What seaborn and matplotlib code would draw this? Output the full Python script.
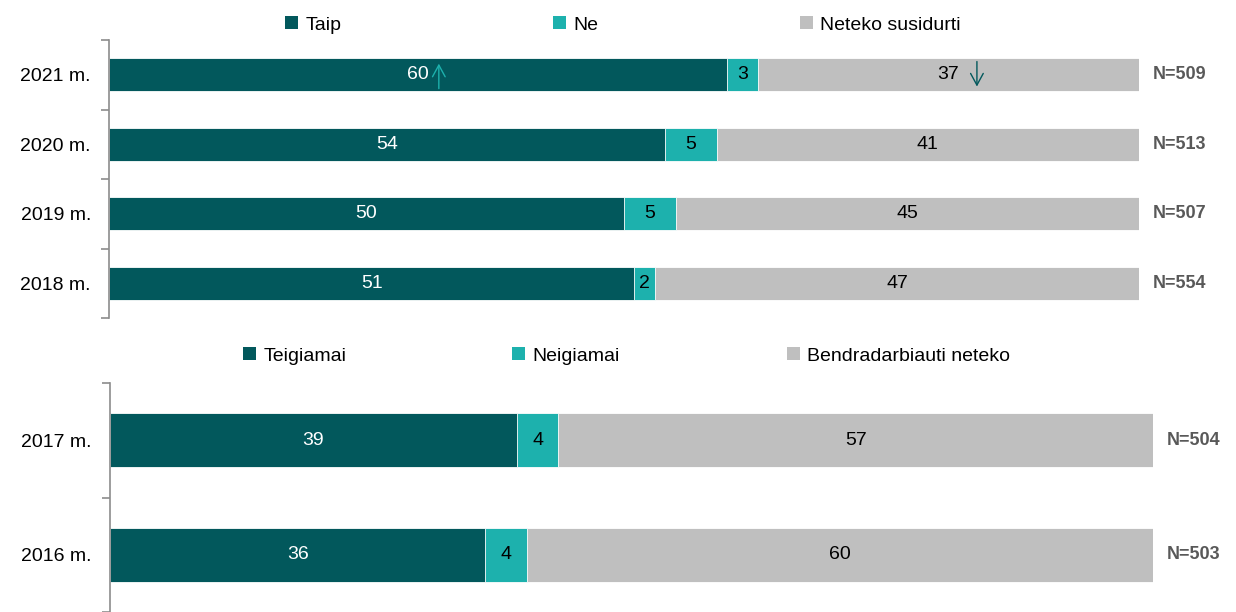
import matplotlib
matplotlib.use("Agg")
import matplotlib.pyplot as plt
import matplotlib.transforms as mtransforms
import seaborn as sns
import pandas as pd
from matplotlib.patches import Patch

# ---- data ----
years_top = ["2021 m.", "2020 m.", "2019 m.", "2018 m."]
taip = [60, 54, 50, 51]
ne = [3, 5, 5, 2]
neteko = [37, 41, 45, 47]
n_top = ["N=509", "N=513", "N=507", "N=554"]
legend_top = ["Taip", "Ne", "Neteko susidurti"]

years_bot = ["2017 m.", "2016 m."]
teig = [39, 36]
neig = [4, 4]
bendr = [57, 60]
n_bot = ["N=504", "N=503"]
legend_bot = ["Teigiamai", "Neigiamai", "Bendradarbiauti neteko"]

# significance arrows per row: one entry per segment ("up" / "down" / None)
arrows_top = {0: ("up", None, "down")}

C_DARK = "#02585C"
C_MID = "#1DB1AD"
C_GRAY = "#BFBFBF"
SPINE = "#8C8C8C"

sns.set_theme(style="white")
plt.rcParams["font.family"] = ["Liberation Sans", "DejaVu Sans"]

W, H = 1236, 612
fig = plt.figure(figsize=(W / 100, H / 100), dpi=100)


def px_axes(left, right, top, bottom):
    return fig.add_axes([left / W, 1 - bottom / H, (right - left) / W, (bottom - top) / H])


def sig_arrow(ax, xc, y, direction):
    # arrow drawn beside a value label, offsets in points
    if direction == "up":
        dx, y_tail, y_head, col = 15, -10, 8, C_MID
    else:
        dx, y_tail, y_head, col = 20.5, 9.5, -8.5, C_DARK
    t_tail = mtransforms.offset_copy(ax.transData, fig=fig, x=dx, y=y_tail, units="points")
    t_head = mtransforms.offset_copy(ax.transData, fig=fig, x=dx, y=y_head, units="points")
    ax.annotate("", xy=(xc, y), xycoords=t_head, xytext=(xc, y), textcoords=t_tail,
                arrowprops=dict(arrowstyle="->,head_length=0.7,head_width=0.38",
                                color=col, lw=1.0, shrinkA=0, shrinkB=0))


def draw_panel(ax, cats, a, b, c, nlabels, ylim, bar_h, arrows=None):
    df = pd.DataFrame({"cat": cats, "a": a, "b": b, "c": c})
    df["ab"] = df["a"] + df["b"]
    df["abc"] = df["ab"] + df["c"]
    kw = dict(data=df, y="cat", orient="h", ax=ax, width=bar_h,
              edgecolor="white", linewidth=0.6, errorbar=None)
    sns.barplot(x="abc", color=C_GRAY, saturation=1, **kw)
    sns.barplot(x="ab", color=C_MID, saturation=1, **kw)
    sns.barplot(x="a", color=C_DARK, saturation=1, **kw)
    ax.set_xlim(0, 100)
    ax.set_ylim(*ylim)
    ax.set_xlabel("")
    ax.set_ylabel("")
    ax.set_xticks([])
    for s in ["top", "right", "bottom"]:
        ax.spines[s].set_visible(False)
    ax.spines["left"].set_color(SPINE)
    ax.spines["left"].set_linewidth(1.2)
    ax.tick_params(axis="y", which="major", left=False, length=0, pad=13,
                   labelsize=14, labelcolor="black")
    n = len(cats)
    ax.set_yticks([i - 0.5 for i in range(n + 1)], minor=True)
    ax.tick_params(axis="y", which="minor", left=True, length=6, width=1.2,
                   color=SPINE, direction="out")
    for i in range(n):
        segs = [(a[i], a[i] / 2, "white"),
                (b[i], a[i] + b[i] / 2, "black"),
                (c[i], a[i] + b[i] + c[i] / 2, "black")]
        for k, (v, xc, col) in enumerate(segs):
            ax.text(xc, i, str(v), ha="center", va="center", color=col, fontsize=14)
            if arrows and i in arrows and arrows[i][k]:
                sig_arrow(ax, xc, i, arrows[i][k])
        ax.annotate(nlabels[i], xy=(100, i), xycoords="data", xytext=(10, 0),
                    textcoords="offset points", ha="left", va="center",
                    fontsize=13, fontweight="bold", color="#595959")


# top panel
ax1 = px_axes(109, 1139, 40, 318)
draw_panel(ax1, years_top, taip, ne, neteko, n_top, (3.5, -0.5), 0.475, arrows_top)

# bottom panel
ax2 = px_axes(110, 1153, 383, 612)
draw_panel(ax2, years_bot, teig, neig, bendr, n_bot, (1.44, -0.5), 0.47)


def make_legend(labels, xs_px, y_px):
    for col, lab, x_px in zip([C_DARK, C_MID, C_GRAY], labels, xs_px):
        h = Patch(facecolor=col, edgecolor="none", label=lab)
        leg = fig.legend(handles=[h], loc="center left",
                         bbox_to_anchor=(x_px / W, 1 - y_px / H), frameon=False,
                         fontsize=14, handlelength=0.65, handleheight=0.65,
                         handletextpad=0.4, borderpad=0, borderaxespad=0)
        for t in leg.get_texts():
            t.set_color("black")


make_legend(legend_top, [285, 553, 800], 25)
make_legend(legend_bot, [243, 512, 787], 356)

fig.savefig("out.png", dpi=100)
